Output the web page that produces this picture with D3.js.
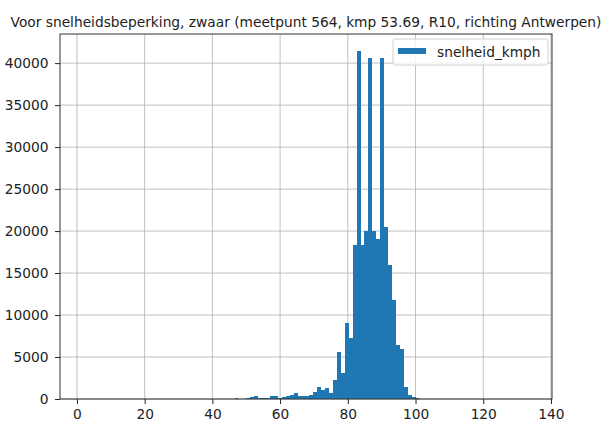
<!DOCTYPE html>
<html>
<head>
<meta charset="utf-8">
<script src="https://cdn.jsdelivr.net/npm/d3@7"></script>
<style>
    body { margin: 0; background: #fff; }
    text { font-family: "DejaVu Sans", sans-serif; fill: #222; }
    .grid line { stroke: #b0b0b0; stroke-width: 0.8; }
    .axis path, .axis line { stroke: #222; }
    .bar { shape-rendering: crispEdges; }
</style>
</head>
<body>
<div id="chart"></div>
<script>
    var title = "Voor snelheidsbeperking, zwaar (meetpunt 564, kmp 53.69, R10, richting Antwerpen)";
    var seriesName = "snelheid_kmph";

    // histogram: left edge of first drawn bin, bin width, counts per bin
    var dataRange = [1.6, 133.7];
    var binStart = 45.38;
    var binWidth = 1.163;
    var counts = [
        50, 150, 0, 50, 150, 200, 300, 150, 100, 100,
        350, 400, 150, 200, 300, 500, 700, 400, 350, 400,
        500, 800, 1400, 1100, 1300, 700, 2300, 5600, 3100, 9000,
        7300, 18400, 41400, 18400, 20000, 40600, 20000, 19000, 40600, 20500,
        16000, 11800, 6400, 6000, 1400, 500, 200, 100, 50
    ];
    var xTicks = [0, 20, 40, 60, 80, 100, 120, 140];
    var yTicks = [0, 5000, 10000, 15000, 20000, 25000, 30000, 35000, 40000];

    var width = 604;
    var height = 424;
    var margin = {top: 34, right: 52, bottom: 25, left: 60};
    var innerWidth = width - margin.left - margin.right;
    var innerHeight = height - margin.top - margin.bottom;
    var fontSize = "13.75px";

    var bins = counts.map(function(c, i) {
        return {x0: binStart + i * binWidth, x1: binStart + (i + 1) * binWidth, count: c};
    });

    var pad = (dataRange[1] - dataRange[0]) * 0.05;
    var x = d3.scaleLinear()
        .domain([dataRange[0] - pad, dataRange[1] + pad])
        .range([0, innerWidth]);

    var y = d3.scaleLinear()
        .domain([0, d3.max(counts) * 1.05])
        .range([innerHeight, 0]);

    var svg = d3.select("#chart").append("svg")
        .attr("width", width)
        .attr("height", height);

    svg.append("text")
        .attr("x", margin.left + innerWidth / 2)
        .attr("y", 27)
        .attr("text-anchor", "middle")
        .style("font-size", fontSize)
        .text(title);

    var g = svg.append("g")
        .attr("transform", "translate(" + margin.left + "," + margin.top + ")");

    // grid
    var grid = g.append("g").attr("class", "grid");
    grid.selectAll(".gx")
        .data(xTicks).enter()
        .append("line")
        .attr("x1", function(d) { return x(d); })
        .attr("x2", function(d) { return x(d); })
        .attr("y1", 0)
        .attr("y2", innerHeight);
    grid.selectAll(".gy")
        .data(yTicks).enter()
        .append("line")
        .attr("x1", 0)
        .attr("x2", innerWidth)
        .attr("y1", function(d) { return y(d); })
        .attr("y2", function(d) { return y(d); });

    // bars
    g.selectAll(".bar")
        .data(bins.filter(function(d) { return d.count > 0; }))
        .enter()
        .append("rect")
        .attr("class", "bar")
        .attr("x", function(d) { return x(d.x0); })
        .attr("width", function(d) { return x(d.x1) - x(d.x0); })
        .attr("y", function(d) { return y(d.count); })
        .attr("height", function(d) { return innerHeight - y(d.count); })
        .attr("fill", "#1f77b4");

    // frame
    g.append("rect")
        .attr("width", innerWidth)
        .attr("height", innerHeight)
        .attr("fill", "none")
        .attr("stroke", "#333")
        .attr("stroke-width", 1);

    var xAxis = g.append("g")
        .attr("class", "axis")
        .attr("transform", "translate(0," + innerHeight + ")")
        .call(d3.axisBottom(x).tickValues(xTicks).tickSize(5).tickPadding(5).tickFormat(d3.format("d")));
    var yAxis = g.append("g")
        .attr("class", "axis")
        .call(d3.axisLeft(y).tickValues(yTicks).tickSize(5).tickPadding(6.5).tickFormat(d3.format("d")));
    [xAxis, yAxis].forEach(function(a) {
        a.select(".domain").remove();
        a.attr("font-family", null).attr("font-size", null);
        a.selectAll("text").style("font-size", fontSize);
    });

    // legend
    var legend = g.append("g")
        .attr("transform", "translate(" + (innerWidth - 159) + ",5)");
    legend.append("rect")
        .attr("width", 155)
        .attr("height", 26)
        .attr("rx", 2.5)
        .attr("fill", "#fff")
        .attr("fill-opacity", 0.8)
        .attr("stroke", "#d0d0d0");
    legend.append("rect")
        .attr("x", 5)
        .attr("y", 9)
        .attr("width", 28)
        .attr("height", 6)
        .attr("fill", "#1f77b4");
    legend.append("text")
        .attr("x", 44)
        .attr("y", 18)
        .style("font-size", fontSize)
        .text(seriesName);
</script>
</body>
</html>
